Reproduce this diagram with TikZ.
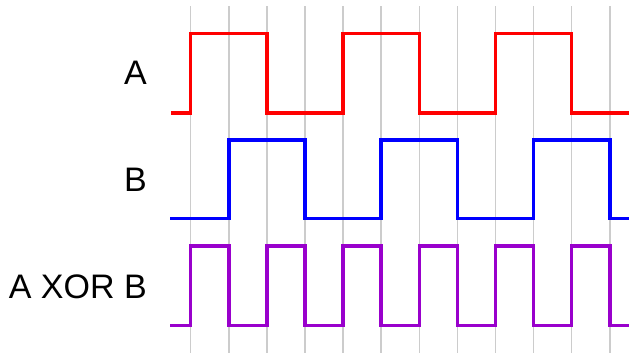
\documentclass[tikz,border=0pt]{standalone}
\usepackage{fontspec}
\setmainfont{Liberation Sans}
\definecolor{gridgray}{HTML}{CCCCCC}
\definecolor{sigA}{HTML}{FF0000}
\definecolor{sigB}{HTML}{0000FF}
\definecolor{sigX}{HTML}{9900CC}
\begin{document}
\begin{tikzpicture}[x=1pt,y=-1pt,
  gridline/.style={draw=gridgray,line width=1.5pt},
  wave/.style={line width=3.5pt,line join=miter},
  siglabel/.style={anchor=east,inner sep=0pt,font=\fontsize{34}{40}\selectfont}]
  \useasboundingbox (0,0) rectangle (629,354);
  % time grid
  \foreach \k in {0,...,11}
    \draw[gridline] ({190.7+38.1*\k},6) -- ({190.7+38.1*\k},353);
  % signal labels
  \node[siglabel] (labA) at (147,73) {A};
  \node[siglabel] (labB) at (147,180) {B};
  \node[siglabel] (labX) at (147,287) {A XOR B};
  % A
  \draw[wave,sigA] (171,113) -- (190.7,113) -- (190.7,33.5) -- (266.9,33.5) -- (266.9,113)
    -- (343.1,113) -- (343.1,33.5) -- (419.3,33.5) -- (419.3,113)
    -- (495.5,113) -- (495.5,33.5) -- (571.7,33.5) -- (571.7,113) -- (629,113);
  % B
  \draw[wave,sigB] (170,218.5) -- (228.8,218.5) -- (228.8,140) -- (305,140) -- (305,218.5)
    -- (381.2,218.5) -- (381.2,140) -- (457.4,140) -- (457.4,218.5)
    -- (533.6,218.5) -- (533.6,140) -- (609.8,140) -- (609.8,218.5) -- (629,218.5);
  % A XOR B
  \draw[wave,sigX] (170,325.5) -- (190.7,325.5)
    \foreach \k in {0,2,4,6,8,10} {
      -- ({190.7+38.1*\k},246) -- ({190.7+38.1*(\k+1)},246)
      -- ({190.7+38.1*(\k+1)},325.5) -- ({190.7+38.1*(\k+2)},325.5)
    };
  \draw[wave,sigX] (609.8,325.5) -- (629,325.5);
\end{tikzpicture}
\end{document}
